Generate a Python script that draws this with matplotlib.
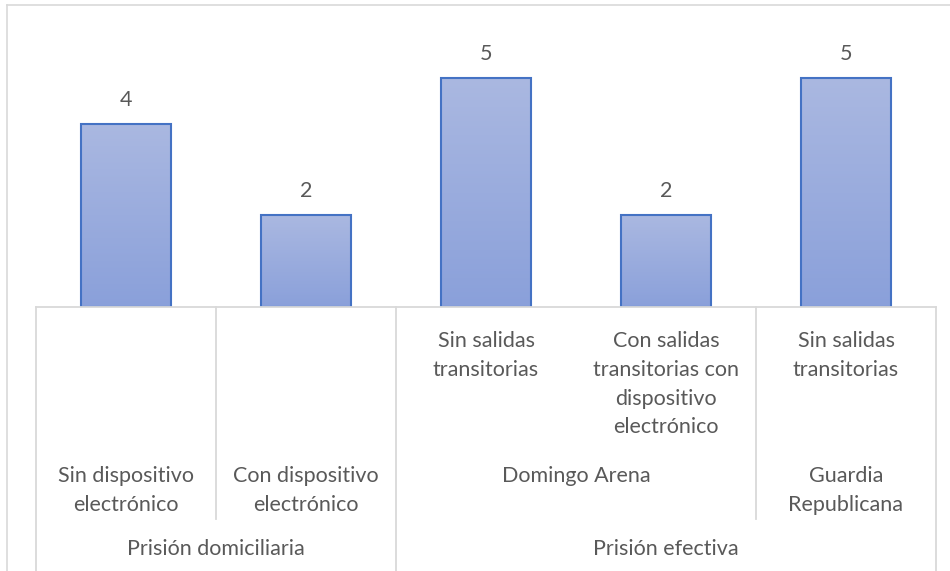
import matplotlib
matplotlib.use("Agg")
import matplotlib.pyplot as plt
import numpy as np
from matplotlib.colors import LinearSegmentedColormap

values = [4, 2, 5, 2, 5]
level1 = ["", "", "Sin salidas\ntransitorias",
          "Con salidas\ntransitorias con\ndispositivo\nelectrónico",
          "Sin salidas\ntransitorias"]
level2 = ["Sin dispositivo\nelectrónico", "Con dispositivo\nelectrónico",
          "Domingo Arena", "Guardia\nRepublicana"]
level2_span = [1, 1, 2, 1]
level3 = ["Prisión domiciliaria", "Prisión efectiva"]
level3_span = [2, 3]

W, H = 950, 571
FONT = "Lato"
TXT = "#595959"
GRID = "#D9D9D9"
FS = 15.5
LS = 1.55

fig = plt.figure(figsize=(W / 100, H / 100), dpi=100)
fig.patch.set_facecolor("white")

# outer chart border
fig.add_artist(plt.Line2D([7 / W, 7 / W], [0, 1 - 5 / H], color=GRID, lw=1.2))
fig.add_artist(plt.Line2D([7 / W, 1], [1 - 5 / H, 1 - 5 / H], color=GRID, lw=1.2))

x0, x1 = 36, 936
base = 307
unit = 45.8
ymax = 6
ax = fig.add_axes([x0 / W, (H - base) / H, (x1 - x0) / W, ymax * unit / H])
n = len(values)
xs = np.arange(n)
ax.axis("off")

cmap = LinearSegmentedColormap.from_list("g", ["#8AA0DA", "#AAB8E1"])
grad = np.linspace(0, 1, 256).reshape(-1, 1)
bars = ax.bar(xs, values, width=0.5, facecolor="none", edgecolor="#4472C4",
              linewidth=1.5, zorder=3)
for b, v in zip(bars, values):
    xl = b.get_x()
    im = ax.imshow(grad, cmap=cmap, origin="lower", aspect="auto",
                   extent=[xl, xl + b.get_width(), 0, v], zorder=2)
    im.set_clip_path(b)
    ax.text(b.get_x() + b.get_width() / 2, v + 24 / unit, str(v),
            ha="center", va="center", fontsize=FS, color=TXT, family=FONT)
ax.set_xlim(-0.5, n - 0.5)
ax.set_ylim(0, ymax)

# category axis area
ax2 = fig.add_axes([x0 / W, 0, (x1 - x0) / W, (H - base) / H])
ax2.set_xlim(-0.5, n - 0.5)
ax2.set_ylim(H, base)
ax2.axis("off")

ax2.plot([-0.5, n - 0.5], [base, base], color=GRID, lw=1.3, clip_on=False)

# level 1 labels
for i, lab in enumerate(level1):
    if lab:
        ax2.text(i, 331, lab, ha="center", va="top", fontsize=FS, color=TXT,
                 family=FONT, linespacing=LS)

# level 2 labels and boundaries
pos = 0
b2 = [-0.5]
for lab, sp in zip(level2, level2_span):
    c = pos + (sp - 1) / 2
    ax2.text(c, 466, lab, ha="center", va="top", fontsize=FS, color=TXT,
             family=FONT, linespacing=LS)
    pos += sp
    b2.append(pos - 0.5)

# level 3 labels and boundaries
pos = 0
b3 = [-0.5]
for lab, sp in zip(level3, level3_span):
    c = pos + (sp - 1) / 2
    ax2.text(c, 549, lab, ha="center", va="center", fontsize=FS, color=TXT,
             family=FONT)
    pos += sp
    b3.append(pos - 0.5)

for b in b2:
    if b not in b3:
        ax2.plot([b, b], [base, 519], color=GRID, lw=1.3, clip_on=False)
for b in b3:
    ax2.plot([b, b], [base, H], color=GRID, lw=1.3, clip_on=False)

fig.savefig("out.png", dpi=100, facecolor="white")
